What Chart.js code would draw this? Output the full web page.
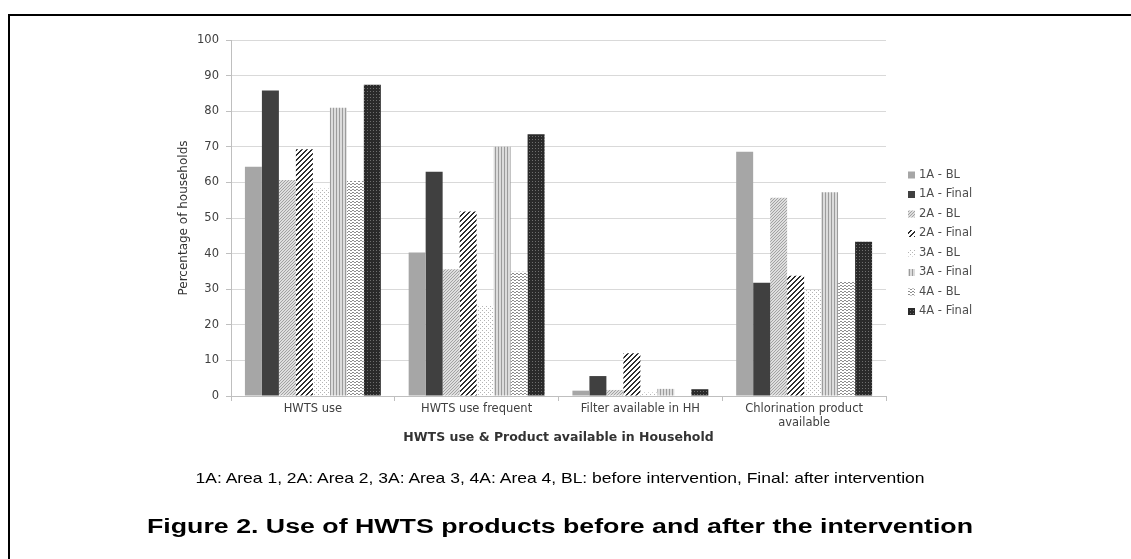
<!DOCTYPE html>
<html>
<head>
<meta charset="utf-8">
<script src="https://cdn.jsdelivr.net/npm/chart.js@4.4.1/dist/chart.umd.min.js"></script>
<style>
  html, body { margin: 0; padding: 0; background: #fff; }
  #wrap { position: relative; width: 1131px; height: 559px; overflow: hidden; }
  #frame { position: absolute; left: 8px; top: 14px; right: -10px; bottom: -10px;
           border-top: 2px solid #000; border-left: 2px solid #000; }
  canvas { position: absolute; left: 0; top: 0; }
  .note { position: absolute; left: 560px; white-space: nowrap; color: #000;
          font-family: "Liberation Sans", Arial, sans-serif; transform-origin: 0 50%; }
  #key { top: 469px; font-size: 15px; }
  #fig { top: 515px; font-size: 20px; font-weight: bold; }
</style>
</head>
<body>
<div id="wrap">
  <div id="frame"></div>
  <canvas id="chart" width="1131" height="559"></canvas>
  <div class="note" id="key">1A: Area 1, 2A: Area 2, 3A: Area 3, 4A: Area 4, BL: before intervention, Final: after intervention</div>
  <div class="note" id="fig">Figure 2. Use of HWTS products before and after the intervention</div>
</div>
<script>
// values (% of households)
const categories = ['HWTS use', 'HWTS use frequent', 'Filter available in HH', ['Chlorination product', 'available']];
const seriesNames = ['1A - BL', '1A - Final', '2A - BL', '2A - Final', '3A - BL', '3A - Final', '4A - BL', '4A - Final'];
const area1BL    = [64.4, 40.3, 1.5, 68.6];
const area1Final = [85.8, 63.0, 5.6, 31.8];
const area2BL    = [60.7, 35.6, 1.7, 55.7];
const area2Final = [69.3, 51.8, 12.0, 33.8];
const area3BL    = [58.3, 25.4, 1.0, 29.8];
const area3Final = [81.0, 70.0, 2.0, 57.2];
const area4BL    = [60.4, 34.9, 0.0, 32.3];
const area4Final = [87.4, 73.5, 1.9, 43.3];
const yTicks = [0, 10, 20, 30, 40, 50, 60, 70, 80, 90, 100];

const textFont = '"DejaVu Sans", "Liberation Sans", Arial, sans-serif';

// small tiled fills to mimic the greyscale hatching
function makePattern(w, h, bg, fg, test) {
    const c = document.createElement('canvas');
    c.width = w; c.height = h;
    const g = c.getContext('2d');
    g.fillStyle = bg;
    g.fillRect(0, 0, w, h);
    g.fillStyle = fg;
    for (let x = 0; x < w; x++) {
        for (let y = 0; y < h; y++) {
            if (test(x, y)) g.fillRect(x, y, 1, 1);
        }
    }
    return document.getElementById('chart').getContext('2d').createPattern(c, 'repeat');
}

const fills = [
    '#a6a6a6',
    '#404040',
    makePattern(3, 3, '#dedede', '#a2a2a2', (x, y) => (x + y) % 3 === 0),
    makePattern(5, 5, '#ffffff', '#2e2e2e', (x, y) => (x + y) % 5 < 2),
    makePattern(4, 4, '#ffffff', '#b4b4b4', (x, y) => (x === 0 && y === 0) || (x === 2 && y === 2)),
    makePattern(3, 3, '#dcdcdc', '#9c9c9c', (x, y) => x === 0),
    makePattern(4, 3, '#ffffff', '#8e8e8e', (x, y) => y === (x < 2 ? 0 : 1)),
    makePattern(3, 3, '#2a2a2a', '#6e6e6e', (x, y) => x === 1 && y === 1)
];

const seriesData = [area1BL, area1Final, area2BL, area2Final, area3BL, area3Final, area4BL, area4Final];

// legend drawn beside the plot
const sideLegend = {
    id: 'sideLegend',
    afterDraw(chart) {
        const ctx = chart.ctx;
        ctx.save();
        ctx.font = '11.5px ' + textFont;
        ctx.textBaseline = 'middle';
        chart.data.datasets.forEach((ds, i) => {
            const y = 175 + i * 19.5;
            ctx.fillStyle = ds.backgroundColor;
            ctx.fillRect(908, y - 3.5, 7, 7);
            ctx.fillStyle = '#4d4d4d';
            ctx.fillText(ds.label, 919, y);
        });
        ctx.restore();
    }
};

new Chart(document.getElementById('chart'), {
    type: 'bar',
    data: {
        labels: categories,
        datasets: seriesNames.map((name, i) => ({
            label: name,
            data: seriesData[i],
            backgroundColor: fills[i],
            borderWidth: 0,
            categoryPercentage: 0.83,
            barPercentage: 1.0
        }))
    },
    options: {
        responsive: false,
        animation: false,
        layout: { padding: { left: 174, right: 245, top: 40, bottom: 113 } },
        plugins: {
            legend: { display: false },
            tooltip: { enabled: false }
        },
        scales: {
            x: {
                afterFit: s => { s.height = 50; },
                grid: { drawOnChartArea: false, color: '#bfbfbf', tickLength: 5 },
                border: { color: '#bfbfbf' },
                ticks: { color: '#404040', padding: 1, font: { family: textFont, size: 11.5 } },
                title: {
                    display: true,
                    text: 'HWTS use & Product available in Household',
                    color: '#333',
                    padding: { top: 2, bottom: 1 },
                    font: { family: textFont, size: 12.5, weight: 'bold' }
                }
            },
            y: {
                min: 0,
                max: 100,
                afterFit: s => { s.width = 57; },
                afterBuildTicks: s => { s.ticks = yTicks.map(v => ({ value: v })); },
                grid: { color: '#d9d9d9', tickLength: 5, tickColor: '#bfbfbf' },
                border: { color: '#bfbfbf' },
                ticks: { color: '#404040', padding: 7, font: { family: textFont, size: 11.5 } },
                title: {
                    display: true,
                    text: 'Percentage of households',
                    color: '#333',
                    padding: { top: 3, bottom: 4 },
                    font: { family: textFont, size: 12 }
                }
            }
        }
    },
    plugins: [sideLegend]
});

// stretch the captions to the widths seen in the figure
function fitNote(id, width) {
    const el = document.getElementById(id);
    const w = el.getBoundingClientRect().width;
    el.style.transform = 'translateX(' + (-width / 2) + 'px) scaleX(' + (width / w) + ')';
}
fitNote('key', 729);
fitNote('fig', 826);
</script>
</body>
</html>
